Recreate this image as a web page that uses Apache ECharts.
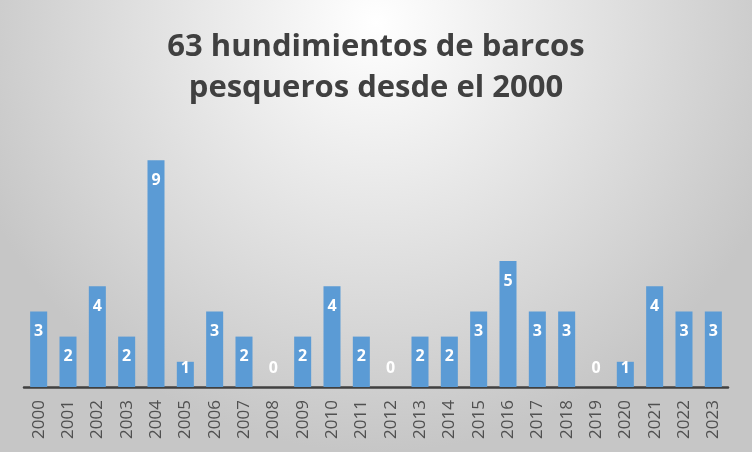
<!DOCTYPE html>
<html>
<head>
<meta charset="utf-8">
<script src="https://cdn.jsdelivr.net/npm/echarts@6/dist/echarts.min.js"></script>
<style>
  html, body { margin: 0; padding: 0; }
  #chart { width: 752px; height: 452px; }
</style>
</head>
<body>
<div id="chart"></div>
<script>
// datos: hundimientos por año
const years = ['2000', '2001', '2002', '2003', '2004', '2005', '2006', '2007', '2008', '2009', '2010', '2011',
  '2012', '2013', '2014', '2015', '2016', '2017', '2018', '2019', '2020', '2021', '2022', '2023']
const sinkings = [3, 2, 4, 2, 9, 1, 3, 2, 0, 2, 4, 2, 0, 2, 2, 3, 5, 3, 3, 0, 1, 4, 3, 3]
const titleLines = ['63 hundimientos de barcos', 'pesqueros desde el 2000']

const chart = echarts.init(document.getElementById('chart'))

// barras muy bajas: la etiqueta se queda encima del eje
const barData = sinkings.map(v => {
  if (v <= 1) {
    return { value: v, label: { position: 'insideBottom', distance: 11 } }
  }
  return v
})

const option = {
  animation: false,
  backgroundColor: {
    type: 'radial',
    x: 0.5,
    y: 0.05,
    r: 0.95,
    colorStops: [
      { offset: 0, color: '#ffffff' },
      { offset: 1, color: '#c6c6c6' }
    ]
  },
  title: {
    text: titleLines.join('\n'),
    left: 'center',
    top: 22,
    textStyle: {
      fontFamily: 'Open Sans',
      fontWeight: 'bold',
      fontSize: 31,
      lineHeight: 41,
      color: '#404040'
    }
  },
  grid: {
    left: 24,
    right: 24,
    top: 135,
    bottom: 65
  },
  xAxis: {
    type: 'category',
    data: years,
    axisLine: { lineStyle: { color: '#404040', width: 2.5 } },
    axisTick: { show: false },
    axisLabel: {
      rotate: 90,
      interval: 0,
      margin: 13,
      color: '#505050',
      fontFamily: 'Open Sans',
      fontSize: 17
    }
  },
  yAxis: {
    type: 'value',
    min: 0,
    max: 10,
    show: false,
    splitLine: { show: false }
  },
  series: [
    {
      name: 'Hundimientos',
      type: 'bar',
      data: barData,
      barWidth: '58%',
      itemStyle: {
        color: '#5b9bd5'
      },
      label: {
        show: true,
        position: 'insideTop',
        distance: 12,
        color: '#ffffff',
        fontFamily: 'Open Sans',
        fontWeight: 'bold',
        fontSize: 16
      }
    }
  ]
}

chart.setOption(option)
</script>
</body>
</html>
